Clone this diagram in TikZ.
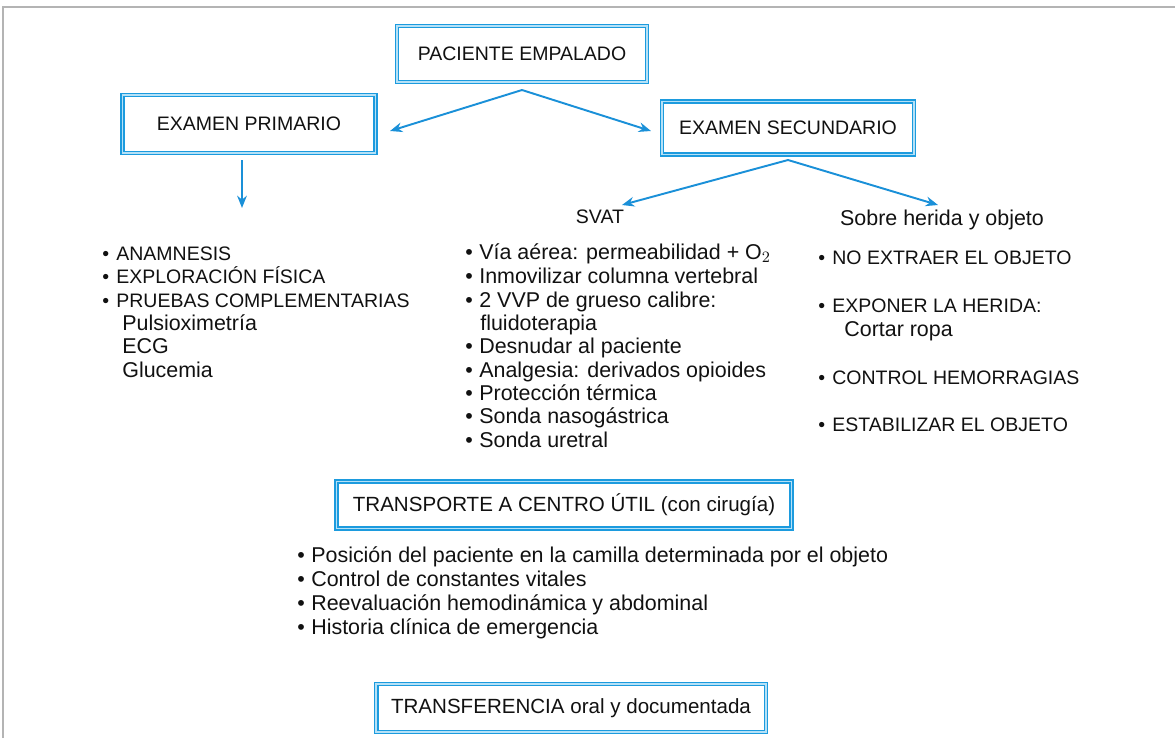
\documentclass[tikz,border=0pt]{standalone}
\usepackage{xcolor}
\usepackage{tikz}
\usepackage{fontspec}
\setmainfont{Liberation Sans}
\usetikzlibrary{arrows.meta, positioning, calc}
\definecolor{framedark}{HTML}{1C9BDE}
\definecolor{framelight}{HTML}{B5E1F7}
\definecolor{arrowblue}{HTML}{1A90D8}
\definecolor{pagegray}{HTML}{B4B4B4}
\definecolor{textmain}{HTML}{111111}
\newcommand{\capsfont}{\fontsize{11.1}{13}\selectfont}
\newcommand{\lowfont}{\fontsize{12.2}{14}\selectfont}
\newcommand{\mixfont}{\fontsize{11.7}{14}\selectfont}
\newcommand{\bul}{\makebox[0.28cm][l]{\textbullet}}
\tikzstyle{stage} = [rectangle, fill=white, draw=framedark, line width=2.8pt, postaction={draw=framelight, line width=0.9pt}, text=textmain, font=\capsfont, inner sep=0pt]
\tikzstyle{item} = [anchor=base west, inner sep=0pt, text=textmain, font=\capsfont]
\tikzstyle{lowitem} = [item, font=\lowfont]
\tikzstyle{heading} = [anchor=base, inner sep=0pt, text=textmain, font=\lowfont]
\tikzstyle{arrow} = [line width=1.1pt, -{Stealth[length=7pt, width=5.5pt]}, color=arrowblue]

\begin{document}
\begin{tikzpicture}[x=0.02cm, y=-0.02cm]
    \useasboundingbox (0,0) rectangle (1175,738);
    % page frame
    \draw[pagegray, line width=1.2pt] (3,738) -- (3,7) -- (1175,7);

    % protocol boxes
    \node[stage, minimum width=5cm, minimum height=1.12cm] (paciente) at (522,54) {PACIENTE EMPALADO};
    \node[stage, minimum width=5.06cm, minimum height=1.16cm] (primario) at (249,124) {EXAMEN PRIMARIO};
    \node[stage, minimum width=5.04cm, minimum height=1.06cm] (secundario) at (788,128) {EXAMEN SECUNDARIO};
    \node[stage, font=\mixfont, minimum width=9.1cm, minimum height=0.94cm] (transporte) at (564,505) {TRANSPORTE A CENTRO ÚTIL (con cirugía)};
    \node[stage, font=\mixfont, minimum width=7.8cm, minimum height=0.96cm] (transferencia) at (571,708) {TRANSFERENCIA oral y documentada};

    \coordinate (fork1) at (522,90);
    \coordinate (toprim) at (390,131);
    \coordinate (tosec) at (651,131);
    \draw[arrow] (fork1) -- (toprim);
    \draw[arrow] (fork1) -- (tosec);

    \coordinate (prim0) at (242,160);
    \coordinate (prim1) at (242,208);
    \draw[arrow] (prim0) -- (prim1);

    % examen primario
    \foreach \y/\t [count=\i] in {260/ANAMNESIS, 283/EXPLORACIÓN FÍSICA, 307/PRUEBAS COMPLEMENTARIAS}
        \node[item] (prim-\i) at (102,\y) {\bul\t};
    \foreach \y/\t [count=\i] in {330/Pulsioximetría, 353/ECG, 377/Glucemia}
        \node[lowitem] (prueba-\i) at (122,\y) {\t};

    % examen secundario
    \node[heading, font=\capsfont] (svat) at (600,223) {SVAT};
    \node[heading] (sobre) at (942,225) {Sobre herida y objeto};
    \coordinate (fork2) at (788,160);
    \coordinate (tosvat) at (622,205);
    \coordinate (tosobre) at (938,205);
    \draw[arrow] (fork2) -- (tosvat);
    \draw[arrow] (fork2) -- (tosobre);

    \foreach \y/\t [count=\i] in {259/Vía aérea: permeabilidad + O$_2$, 283/Inmovilizar columna vertebral, 307/2 VVP de grueso calibre:, 353/Desnudar al paciente, 377/Analgesia: derivados opioides, 400/Protección térmica, 423/Sonda nasogástrica, 447/Sonda uretral}
        \node[lowitem] (svat-\i) at (465,\y) {\bul\t};
    \node[lowitem] (fluido) at (480,330) {fluidoterapia};

    \foreach \y/\t [count=\i] in {264/NO EXTRAER EL OBJETO, 312/EXPONER LA HERIDA:, 384/CONTROL HEMORRAGIAS, 431/ESTABILIZAR EL OBJETO}
        \node[item] (sobre-\i) at (818,\y) {\bul\t};
    \node[lowitem] (ropa) at (844,336) {Cortar ropa};

    % durante el transporte
    \foreach \y/\t [count=\i] in {562/Posición del paciente en la camilla determinada por el objeto, 586/Control de constantes vitales, 610/Reevaluación hemodinámica y abdominal, 634/Historia clínica de emergencia}
        \node[lowitem] (trans-\i) at (297,\y) {\bul\t};
\end{tikzpicture}
\end{document}
